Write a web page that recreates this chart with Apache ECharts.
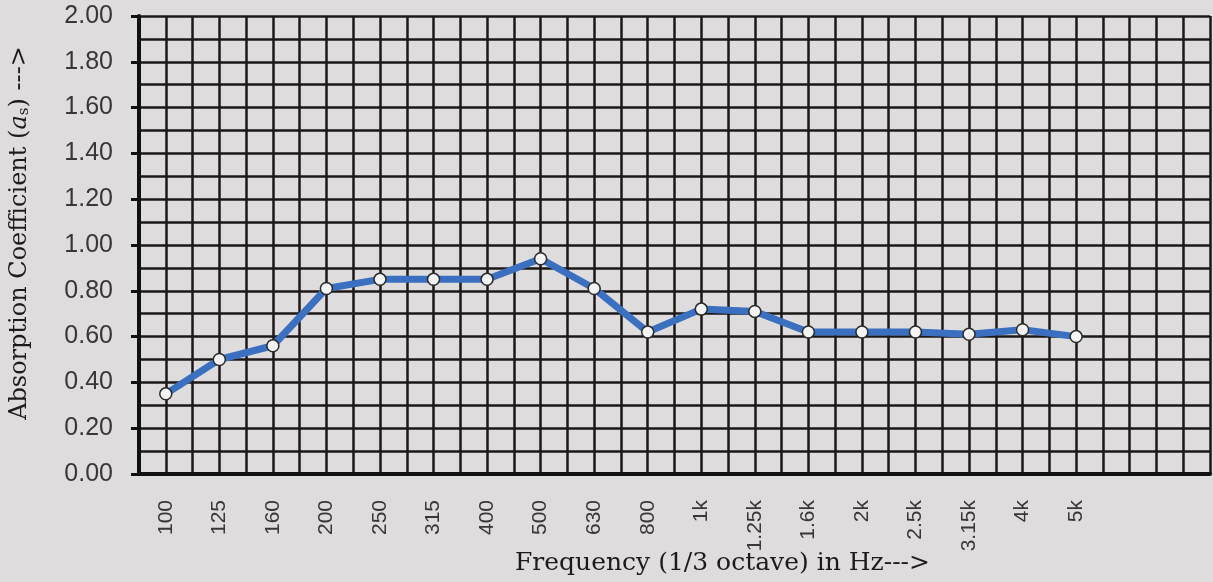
<!DOCTYPE html>
<html>
<head>
<meta charset="utf-8">
<script src="https://cdn.jsdelivr.net/npm/echarts@6/dist/echarts.min.js"></script>
<style>
  html, body { margin: 0; padding: 0; background: #dedcdc; }
  #chart { width: 1213px; height: 582px; }
</style>
</head>
<body>
<div id="chart"></div>
<script>
// 1/3 octave band centre frequencies
const frequencies = ['100', '125', '160', '200', '250', '315', '400', '500', '630', '800',
  '1k', '1.25k', '1.6k', '2k', '2.5k', '3.15k', '4k', '5k']
// absorption coefficient read per band
const absorption = [0.35, 0.50, 0.56, 0.81, 0.85, 0.85, 0.85, 0.94, 0.81, 0.62,
  0.72, 0.71, 0.62, 0.62, 0.62, 0.61, 0.63, 0.60]
const yTicks = ['0.00', '0.20', '0.40', '0.60', '0.80', '1.00', '1.20', '1.40', '1.60', '1.80', '2.00']

const gridLine = { color: '#1c1818', width: 2.5 }
const titleFont = 'DejaVu Serif'

const chart = echarts.init(document.getElementById('chart'))
chart.setOption({
  backgroundColor: '#dedcdc',
  animation: false,
  grid: { left: 139, right: 3, top: 16, bottom: 108, outerBoundsMode: 'none', containLabel: false },
  xAxis: {
    type: 'value',
    min: -0.5,
    max: 19.5,
    interval: 0.5,
    name: 'Frequency (1/3 octave) in Hz--->',
    nameLocation: 'middle',
    nameGap: 77,
    nameMoveOverlap: false,
    nameTextStyle: {
      fontFamily: titleFont, fontSize: 25, color: '#1e1a1a',
      padding: [0, 0, 0, 96]
    },
    axisLine: { show: true, onZero: false, lineStyle: { color: '#111', width: 4 } },
    axisTick: { show: false },
    splitLine: { show: true, lineStyle: gridLine },
    axisLabel: {
      rotate: 90,
      margin: 26,
      fontFamily: 'Liberation Sans',
      fontSize: 21,
      color: '#3a3636',
      showMinLabel: true,
      showMaxLabel: true,
      formatter: v => (Number.isInteger(v) && frequencies[v]) ? frequencies[v] : ''
    }
  },
  yAxis: {
    type: 'value',
    min: 0,
    max: 2,
    interval: 0.2,
    name: 'Absorption Coefficient ({i|a}{s|s}) --->',
    nameLocation: 'middle',
    nameGap: 107,
    nameMoveOverlap: false,
    nameTextStyle: {
      fontFamily: titleFont, fontSize: 24, color: '#1e1a1a',
      padding: [0, 0, 0, 24],
      rich: {
        i: { fontFamily: titleFont, fontStyle: 'italic', fontSize: 24, color: '#1e1a1a' },
        s: { fontFamily: titleFont, fontSize: 15, color: '#1e1a1a', verticalAlign: 'bottom', padding: [10, 0, 0, 0] }
      }
    },
    axisLine: { show: true, onZero: false, lineStyle: { color: '#111', width: 4 } },
    axisTick: { show: true, length: 8, lineStyle: { color: '#111', width: 3 } },
    splitLine: { show: true, lineStyle: gridLine },
    minorTick: { show: false, splitNumber: 2 },
    minorSplitLine: { show: true, lineStyle: gridLine },
    axisLabel: {
      margin: 26,
      fontFamily: 'Liberation Sans',
      fontSize: 25,
      color: '#3a3636',
      formatter: v => yTicks[Math.round(v * 5)]
    }
  },
  series: [{
    type: 'line',
    data: absorption.map((v, i) => [i, v]),
    lineStyle: { color: '#3b6fbf', width: 7 },
    itemStyle: { color: '#f4f4f4', borderColor: '#2a2a2a', borderWidth: 1.5 },
    symbol: 'circle',
    symbolSize: 12,
    z: 5
  }]
})
</script>
</body>
</html>
